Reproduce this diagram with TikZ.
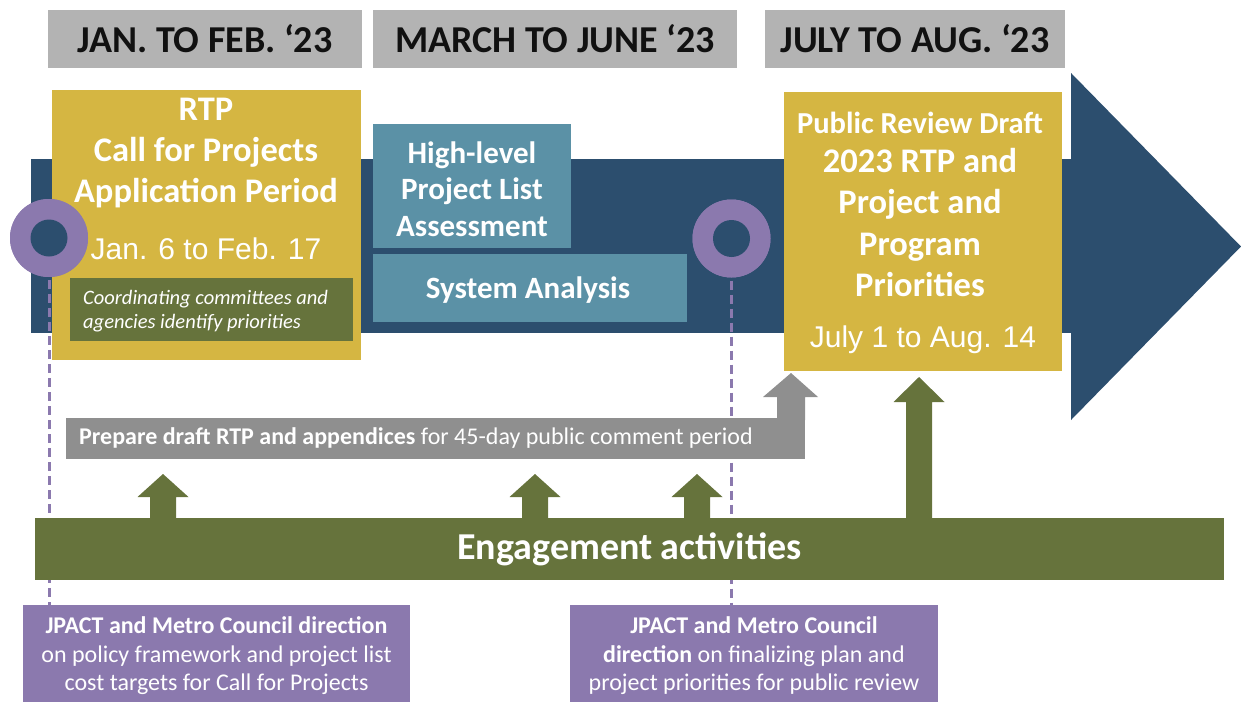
\documentclass[tikz,border=0pt]{standalone}
\usepackage{fontspec}
\setmainfont{Carlito}
\newfontfamily\arialf{Liberation Sans}
\usetikzlibrary{calc}
\definecolor{hdrgray}{HTML}{B3B3B3}
\definecolor{bandblue}{HTML}{2C4E6E}
\definecolor{goldc}{HTML}{D5B642}
\definecolor{tealc}{HTML}{5B91A6}
\definecolor{olivec}{HTML}{66733C}
\definecolor{purp}{HTML}{8B79AE}
\definecolor{boxgray}{HTML}{8F8F8F}
\definecolor{hdrtext}{HTML}{111111}
\newcommand\blockup[5]{\fill[#1] (#2-13,#3) -- (#2-13,#5) -- (#2-25.5,#5) -- (#2,#4) -- (#2+25.5,#5) -- (#2+13,#5) -- (#2+13,#3) -- cycle;}
\begin{document}
\begin{tikzpicture}[x=1pt,y=-1pt,
  fbox/.style={rectangle, draw=none, fill=#1, inner sep=0pt},
  txt/.style={inner sep=0pt, text=white, align=center},
  hdr/.style={fbox=hdrgray, minimum height=58pt, text=hdrtext, font=\fontsize{38}{44}\selectfont\bfseries},
  ringo/.style={circle, fill=purp, minimum size=78pt, inner sep=0pt},
  ringi/.style={circle, fill=bandblue, minimum size=37pt, inner sep=0pt},
  dashl/.style={purp, line width=3pt, dash pattern=on 9pt off 5pt}]
\useasboundingbox (0,0) rectangle (1241,701);
% timeline band
\fill[bandblue] (31,159) rectangle (1072,333);
\fill[bandblue] (1071,73) -- (1241,246.5) -- (1071,420) -- cycle;
% headers
\node[hdr, minimum width=314pt] (h1) at (205,39) {JAN. TO FEB. ‘23};
\node[hdr, minimum width=364pt] (h2) at (555,39) {MARCH TO JUNE ‘23};
\node[hdr, minimum width=300pt] (h3) at (915,39) {JULY TO AUG. ‘23};
% yellow box 1
\node[fbox=goldc, minimum width=309pt, minimum height=270pt] (y1) at (206.5,225) {};
\node[txt, font=\fontsize{34.5}{41}\selectfont\bfseries] (y1t) at (206,153) {RTP\\Call for Projects\\Application Period};
\node[txt, font=\fontsize{30}{36}\selectfont\arialf] (y1d) at (206,249) {Jan. 6 to Feb. 17};
\node[fbox=olivec, minimum width=283pt, minimum height=63pt] (cc) at (211.5,309.5) {};
\node[txt, align=left, anchor=west, font=\fontsize{20.5}{24}\selectfont\itshape] (cct) at (83,311) {Coordinating committees and\\agencies identify priorities};
% teal boxes
\node[fbox=tealc, minimum width=198pt, minimum height=124pt] (ta) at (472,186) {};
\node[txt, font=\fontsize{31}{36.5}\selectfont\bfseries] (tat) at (472,189) {High-level\\Project List\\Assessment};
\node[fbox=tealc, minimum width=314pt, minimum height=68pt] (tb) at (530,288) {};
\node[txt, font=\fontsize{31}{36}\selectfont\bfseries] (tbt) at (528,290) {System Analysis};
% yellow box 2
\node[fbox=goldc, minimum width=278pt, minimum height=279pt] (y2) at (923,231.5) {};
\node[txt, font=\fontsize{30.5}{35}\selectfont\bfseries] (y2a) at (920,123) {Public Review Draft};
\node[txt, font=\fontsize{34.5}{41.5}\selectfont\bfseries] (y2b) at (920,222.5) {2023 RTP and\\Project and\\Program\\Priorities};
\node[txt, font=\fontsize{30}{36}\selectfont\arialf] (y2d) at (923,340) {July 1 to Aug. 14};
% purple boxes (bottom)
\node[fbox=purp, minimum width=387pt, minimum height=97pt] (pb1) at (216.5,653.5) {};
\node[fbox=purp, minimum width=368pt, minimum height=97pt] (pb2) at (754,653.5) {};
% rings and dashed lines
\node[ringo] (ring1) at (49,238) {};
\node[ringo] (ring2) at (731.5,238.5) {};
\draw[dashl] (ring1.center) -- (ring1.center |- pb1.north);
\draw[dashl] (ring2.center) -- (ring2.center |- pb2.north);
\node[ringo] at (ring1) {};
\node[ringi] (hole1) at (ring1) {};
\node[ringo] at (ring2) {};
\node[ringi] (hole2) at (ring2) {};
% gray prepare box and its arrow
\node[fbox=boxgray, minimum width=739pt, minimum height=41pt] (gp) at (435.5,438.5) {};
\node[txt, anchor=west, font=\fontsize{24}{28}\selectfont] (gpt) at (79,438.5) {\textbf{Prepare draft RTP and appendices} for 45-day public comment period};
\fill[boxgray] (777,420) -- (777,397) -- (763,397) -- (791,373) -- (818,397) -- (805,397) -- (805,420) -- cycle;
% engagement bar and arrows
\node[fbox=olivec, minimum width=1189pt, minimum height=62pt, text=white, font=\fontsize{38}{44}\selectfont\bfseries] (eng) at (629.5,549) {Engagement activities};
\blockup{olivec}{163}{519}{474}{497}
\blockup{olivec}{535}{519}{474}{497}
\blockup{olivec}{697}{519}{474}{497}
\blockup{olivec}{919}{519}{377}{402}
% purple box texts
\node[txt, font=\fontsize{24}{28.5}\selectfont] (pb1t) at (216.5,656) {\textbf{JPACT and Metro Council direction}\\on policy framework and project list\\cost targets for Call for Projects};
\node[txt, font=\fontsize{24}{28.5}\selectfont] (pb2t) at (754,656) {\textbf{JPACT and Metro Council}\\\textbf{direction} on finalizing plan and\\project priorities for public review};
\end{tikzpicture}
\end{document}
